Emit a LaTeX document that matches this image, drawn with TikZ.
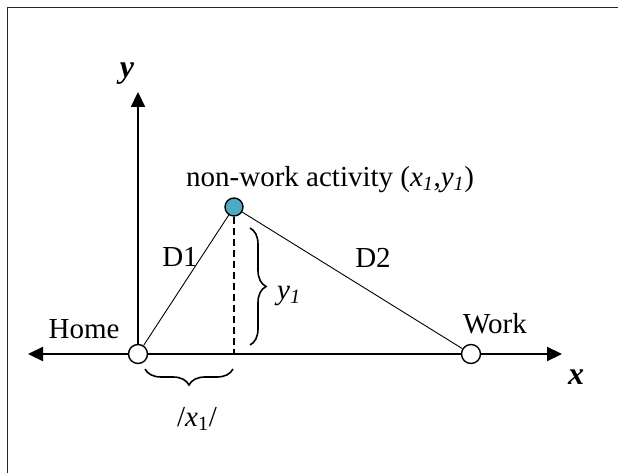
\documentclass[tikz,border=0pt]{standalone}
\usepackage{fontspec}
\setmainfont{Liberation Serif}
\usetikzlibrary{arrows.meta,decorations.pathreplacing}
\definecolor{actblue}{HTML}{4BACC6}
\begin{document}
\begin{tikzpicture}[x=1pt,y=-1pt,
  lbl/.style={font=\fontsize{29}{32}\selectfont, inner sep=0pt},
  axlbl/.style={font=\fontsize{32}{34}\selectfont\bfseries\itshape, inner sep=0pt},
  place/.style={circle, draw=black, line width=1.4pt, fill=white, minimum size=19pt, inner sep=0pt},
  axisline/.style={line width=2.2pt},
  axis/.style={axisline, -{Triangle[length=15pt,width=14pt]}},
  conn/.style={line width=0.9pt},
  bracestyle/.style={decorate, decoration={brace, amplitude=16pt, aspect=0.5}, line width=1.6pt},
  frame/.style={line width=1.8pt, draw=black!85}
]
\useasboundingbox (0,0) rectangle (618,473);
% frame (top and left edges visible)
\draw[frame] (618,7.5) -- (7.5,7.5) -- (7.5,473);

% places
\coordinate (xl) at (28,354);
\coordinate (xr) at (562,354);
\coordinate (yt) at (138,92);
\node[place] (home) at (138,354) {};
\node[place] (work) at (471,354) {};
\node[place, fill=actblue, minimum size=18pt] (act) at (234,207) {};
\coordinate (foot) at (234,354);

% axes
\draw[axis] (home.west) -- (xl);
\draw[axisline] (home.east) -- (work.west);
\draw[axis] (work.east) -- (xr);
\draw[axis] (home.north) -- (yt);

% connectors
\draw[conn] (home) -- (act);
\draw[conn] (act) -- (work);
\draw[line width=1.8pt, dash pattern=on 7pt off 4pt] (act.south) -- (foot);

% braces
\coordinate (yb1) at (250,228);
\coordinate (yb2) at (250,345);
\draw[bracestyle] (yb1) -- (yb2);
\coordinate (xb1) at (233,369);
\coordinate (xb2) at (145,369);
\draw[bracestyle] (xb1) -- (xb2);

% labels
\node[axlbl] (ylab) at (127,74) {y};
\node[axlbl] (xlab) at (576,377) {x};
\node[lbl, anchor=base west] (actlab) at (186,186) {non-work activity (\textit{x\textsubscript{1}},\textit{y\textsubscript{1}})};
\node[lbl, anchor=base] (homelab) at (84,338) {Home};
\node[lbl, anchor=base] (worklab) at (495,333) {Work};
\node[lbl, anchor=base] (d1) at (180,266) {D1};
\node[lbl, anchor=base] (d2) at (373,267) {D2};
\node[lbl, anchor=base west] (y1lab) at (277,299) {\textit{y\textsubscript{1}}};
\node[lbl, anchor=base] (x1lab) at (197,426) {/\textit{x}\textsubscript{1}/};
\end{tikzpicture}
\end{document}
